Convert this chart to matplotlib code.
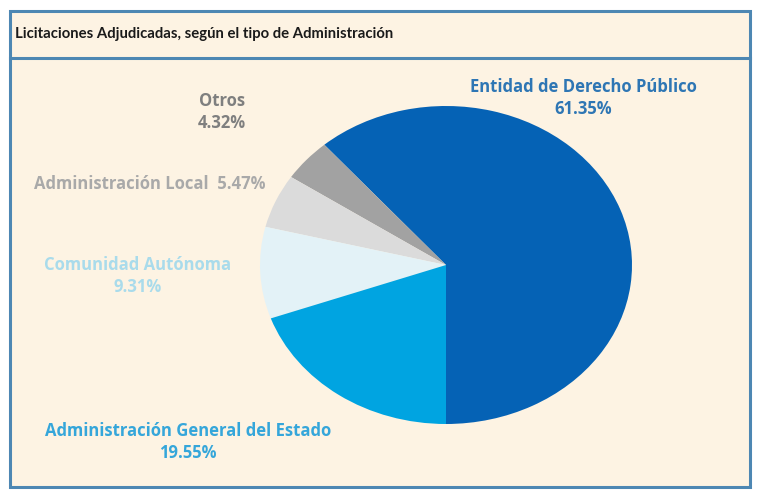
import matplotlib
matplotlib.use("Agg")
import matplotlib.pyplot as plt
from matplotlib.patches import Rectangle

title = "Licitaciones Adjudicadas, según el tipo de Administración"
categories = ["Entidad de Derecho Público", "Otros", "Administración Local",
              "Comunidad Autónoma", "Administración General del Estado"]
values = [61.35, 4.32, 5.47, 9.31, 19.55]
slice_colors = ["#0562b5", "#a2a2a2", "#dbdbdb", "#e3f2f7", "#00a4e1"]
label_colors = ["#2e76b4", "#7f7f7f", "#a9a9a9", "#a9dbeb", "#35a6da"]

W, H = 762, 502
fig = plt.figure(figsize=(W / 100, H / 100), dpi=100)
fig.patch.set_facecolor("white")

def fx(px):
    return px / W

def fy(py):
    return 1 - py / H

bg = "#fdf3e3"
edge = "#4d87b3"
# outer frame
fig.patches.append(Rectangle((fx(10), fy(488)), fx(750) - fx(10), fy(12) - fy(488),
                             transform=fig.transFigure, facecolor=bg, edgecolor=edge,
                             linewidth=2.2, zorder=-5))
# title separator
fig.add_artist(plt.Line2D([fx(10), fx(750)], [fy(59), fy(59)], transform=fig.transFigure,
                          color=edge, linewidth=2.2, zorder=-4))
fig.text(fx(15), fy(34), title, fontsize=10.7, fontweight="bold", family="Lato",
         color="#1a1a1a", va="center", ha="left")

# pie
cx, cy, rx, ry = 446, 266, 186, 159
ax = fig.add_axes([fx(cx - rx), fy(cy + ry), 2 * rx / W, 2 * ry / H])
ax.set_zorder(5)
ax.pie(values, colors=slice_colors, startangle=-90, counterclock=True,
       radius=1, wedgeprops=dict(linewidth=0))
ax.set_aspect("auto")
ax.set_xlim(-1, 1)
ax.set_ylim(-1, 1)
ax.axis("off")

# labels
lab_font = dict(fontsize=12, fontweight="bold", family="Open Sans")
def pct(v):
    return f"{v:.2f}%"

fig.text(fx(583), fy(98), f"{categories[0]}\n{pct(values[0])}", color=label_colors[0],
         ha="center", va="center", linespacing=1.25, **lab_font)
fig.text(fx(222), fy(112), f"{categories[1]}\n{pct(values[1])}", color=label_colors[1],
         ha="center", va="center", linespacing=1.25, **lab_font)
fig.text(fx(150), fy(184), f"{categories[2]}  {pct(values[2])}", color=label_colors[2],
         ha="center", va="center", **lab_font)
fig.text(fx(138), fy(276), f"{categories[3]}\n{pct(values[3])}", color=label_colors[3],
         ha="center", va="center", linespacing=1.25, **lab_font)
fig.text(fx(188), fy(442), f"{categories[4]}\n{pct(values[4])}", color=label_colors[4],
         ha="center", va="center", linespacing=1.25, **lab_font)

fig.savefig("out.png", dpi=100, facecolor=fig.get_facecolor())
